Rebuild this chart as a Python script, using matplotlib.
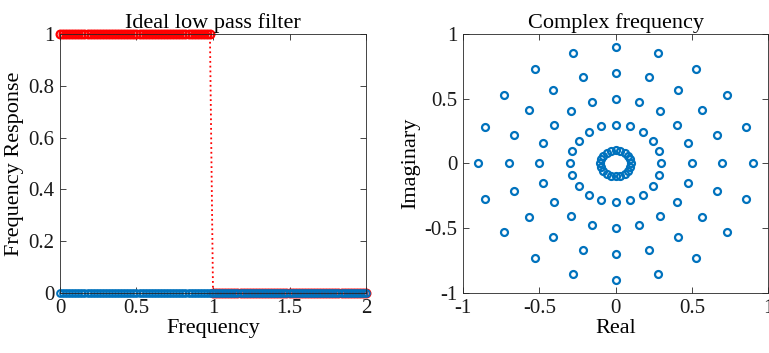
import matplotlib.pyplot as plt
import numpy as np

# left panel: ideal low pass filter sampled on a 0.02 grid
freq = np.round(np.arange(0, 2.0001, 0.02), 2)
response = [1] * 50 + [0] * 51
zero_line = [0] * 101

# right panel: rings of complex frequencies
radii = [0.1, 0.3, 0.5, 0.7, 0.9]
angles_deg = [0, 18, 36, 54, 72, 90, 108, 126, 144, 162,
              180, 198, 216, 234, 252, 270, 288, 306, 324, 342]

plt.rcParams['font.family'] = ['Liberation Serif', 'DejaVu Serif']
plt.rcParams['font.size'] = 15

blue = '#0072BD'
edge = '#262626'

fig = plt.figure(figsize=(7.69, 3.53), dpi=100)
ax1 = fig.add_axes([0.078, 0.170, 0.398, 0.734])
ax2 = fig.add_axes([0.602, 0.170, 0.397, 0.734])

# left: red response underneath, blue zero line drawn on top of it
ax1.plot(freq, response, ':o', color='red', mfc='none', ms=5.6, mew=1.6, lw=1.3, clip_on=False)
ax1.plot(freq, zero_line, 'o', color=blue, mfc='none', ms=4.8, mew=1.5, clip_on=False)
ax1.set_xlim(0, 2)
ax1.set_ylim(0, 1)
ax1.set_xticks([0, 0.5, 1, 1.5, 2])
ax1.set_xticklabels(['0', '0.5', '1', '1.5', '2'])
ax1.set_yticks([0, 0.2, 0.4, 0.6, 0.8, 1])
ax1.set_yticklabels(['0', '0.2', '0.4', '0.6', '0.8', '1'])
ax1.set_title('Ideal low pass filter', fontsize=16, pad=4)
ax1.set_xlabel('Frequency', fontsize=16, labelpad=1)
ax1.set_ylabel('Frequency Response', fontsize=16, labelpad=3)

# right
ang = np.deg2rad(angles_deg)
for r in radii:
    ax2.plot(r * np.cos(ang), r * np.sin(ang), 'o', color=blue, mfc='none', ms=5, mew=1.6)
ax2.set_xlim(-1, 1)
ax2.set_ylim(-1, 1)
ax2.set_xticks([-1, -0.5, 0, 0.5, 1])
ax2.set_xticklabels(['-1', '-0.5', '0', '0.5', '1'])
ax2.set_yticks([-1, -0.5, 0, 0.5, 1])
ax2.set_yticklabels(['-1', '-0.5', '0', '0.5', '1'])
ax2.set_title('Complex frequency', fontsize=16, pad=4)
ax2.set_xlabel('Real', fontsize=16, labelpad=1)
ax2.set_ylabel('Imaginary', fontsize=16, labelpad=3)

for ax in (ax1, ax2):
    for s in ax.spines.values():
        s.set_color(edge)
        s.set_linewidth(0.6)
    ax.tick_params(direction='in', top=True, right=True, length=4, width=0.6,
                   color=edge, labelcolor='#1a1a1a', labelsize=15, pad=4)

fig.savefig('out.png', dpi=100)
